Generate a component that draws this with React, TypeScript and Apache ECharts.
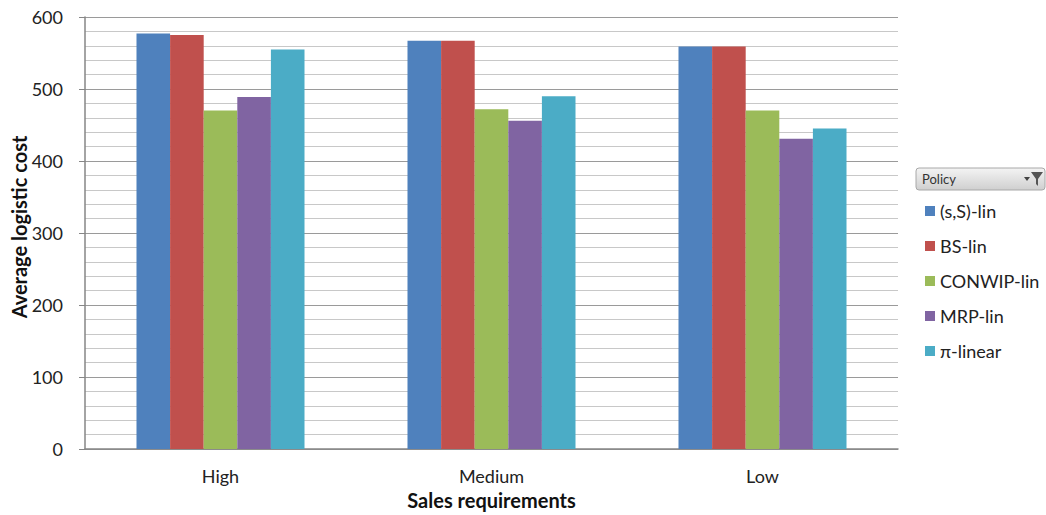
import React, { useEffect, useRef } from "react";
import * as echarts from "echarts";

const categories = ["High", "Medium", "Low"];
const seriesNames = ["(s,S)-lin", "BS-lin", "CONWIP-lin", "MRP-lin", "π-linear"];
const sSLin = [577, 567, 559];
const bsLin = [575, 567, 559];
const conwipLin = [470, 472, 470];
const mrpLin = [489, 456, 431];
const piLinear = [555, 490, 445];
const colors = ["#4F81BD", "#C0504D", "#9BBB59", "#8064A2", "#4BACC6"];

const FONT = "Lato, 'Open Sans', sans-serif";

export default function App() {
  const ref = useRef<HTMLDivElement>(null);
  useEffect(() => {
    if (!ref.current) return;
    const chart = echarts.init(ref.current, null, { renderer: "svg" });
    const values = [sSLin, bsLin, conwipLin, mrpLin, piLinear];
    chart.setOption({
      animation: false,
      color: colors,
      textStyle: { fontFamily: FONT },
      grid: { left: 85, width: 813, top: 17, height: 432, outerBoundsMode: "none", containLabel: false },
      legend: {
        orient: "vertical",
        left: 920,
        top: 197,
        itemWidth: 10,
        itemHeight: 10,
        itemGap: 17,
        icon: "rect",
        data: seriesNames,
        textStyle: { fontSize: 18, color: "#222", fontFamily: FONT, lineHeight: 18 },
      },
      xAxis: {
        type: "category",
        data: categories,
        name: "Sales requirements",
        nameLocation: "middle",
        nameGap: 40,
        nameTextStyle: {
          fontSize: 20,
          fontWeight: "bold",
          color: "#111",
          fontFamily: FONT,
        },
        axisLine: { lineStyle: { color: "#868686", width: 1.5 } },
        axisTick: { show: false },
        axisLabel: { fontSize: 18, color: "#222", margin: 18, fontFamily: FONT },
      },
      yAxis: {
        type: "value",
        min: 0,
        max: 600,
        interval: 100,
        name: "Average logistic cost",
        nameLocation: "middle",
        nameGap: 56,
        nameMoveOverlap: false,
        nameTextStyle: {
          fontSize: 20,
          fontWeight: "bold",
          color: "#111",
          fontFamily: FONT,
          padding: [0, 0, 0, 12],
        },
        axisLine: { show: true, lineStyle: { color: "#868686", width: 1.5 } },
        axisTick: { show: true, length: 6, lineStyle: { color: "#868686" } },
        axisLabel: { fontSize: 18, color: "#222", margin: 22, fontFamily: FONT },
        splitLine: { show: true, lineStyle: { color: "#9a9a9a", width: 1 } },
        minorTick: { show: false, splitNumber: 5 },
        minorSplitLine: { show: true, lineStyle: { color: "#c8c8c8", width: 1 } },
      },
      series: seriesNames.map((name, i) => ({
        name,
        type: "bar",
        data: values[i],
        barGap: "0%",
        barCategoryGap: "38%",
        itemStyle: { color: colors[i] },
      })),
      graphic: [
        {
          type: "rect",
          shape: { x: 916, y: 168, width: 129, height: 22, r: 3 },
          style: {
            fill: new echarts.graphic.LinearGradient(0, 0, 0, 1, [
              { offset: 0, color: "#f4f4f4" },
              { offset: 1, color: "#cfcfcf" },
            ]),
            stroke: "#a8a8a8",
            lineWidth: 1,
          },
        },
        {
          type: "text",
          x: 922,
          y: 179,
          style: { text: "Policy", fontSize: 13, fill: "#333", fontFamily: FONT, verticalAlign: "middle" },
        },
        {
          type: "polygon",
          shape: { points: [[1024, 177], [1030, 177], [1027, 181]] },
          style: { fill: "#444" },
        },
        {
          type: "polygon",
          shape: { points: [[1031, 172], [1043, 172], [1038, 179], [1038, 186], [1036, 184], [1036, 179]] },
          style: { fill: "#555" },
        },
      ],
    });
    return () => chart.dispose();
  }, []);
  return (
    <div
      ref={ref}
      style={{ position: "absolute", left: 0, top: 0, width: 1046, height: 515, background: "#fff" }}
    />
  );
}
